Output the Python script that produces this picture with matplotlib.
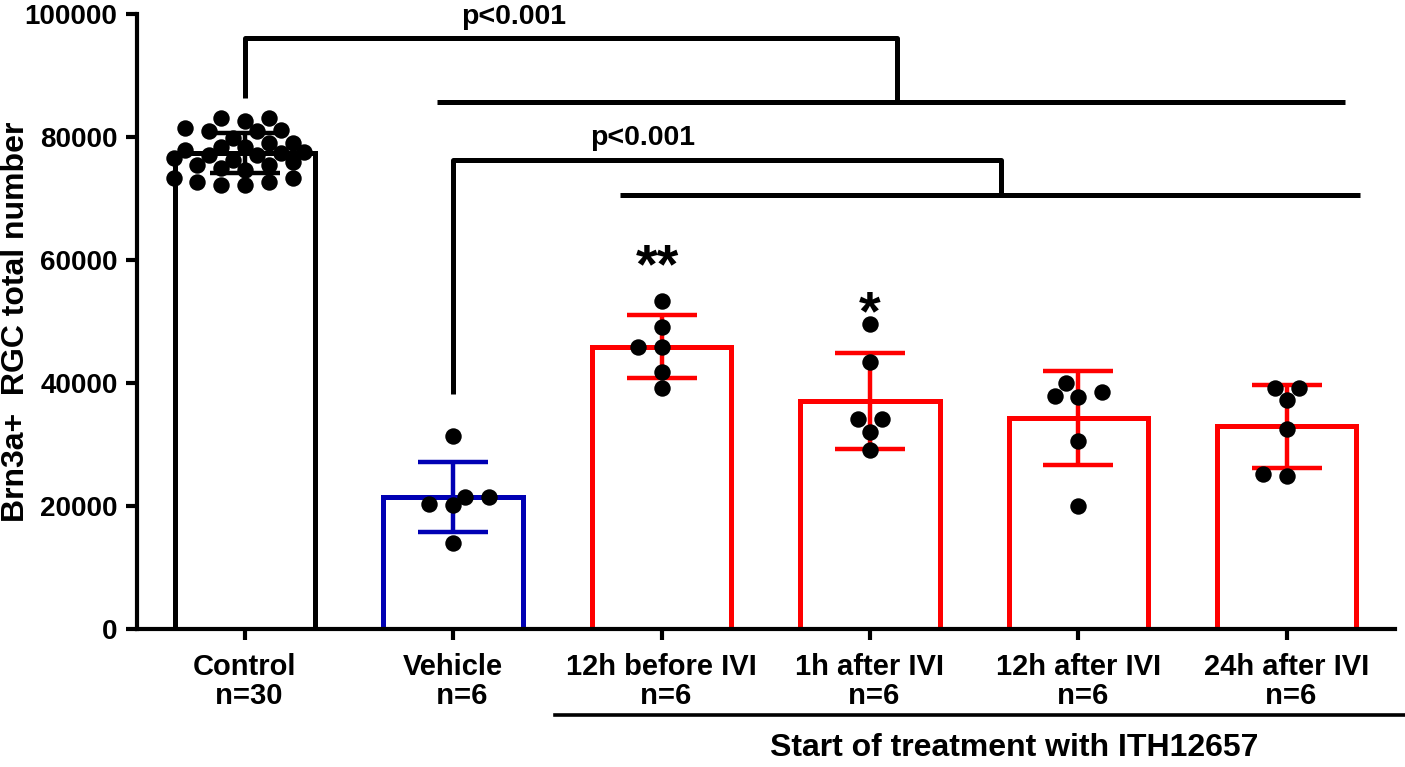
import numpy as np
import matplotlib
matplotlib.use("Agg")
import matplotlib.pyplot as plt
from matplotlib.transforms import blended_transform_factory

plt.rcParams['font.family'] = ['Liberation Sans', 'DejaVu Sans']
plt.rcParams['font.weight'] = 'bold'

# data
groups = ["Control", "Vehicle", "12h before IVI", "1h after IVI", "12h after IVI", "24h after IVI"]
group_n = [30, 6, 6, 6, 6, 6]
means = [77400, 21500, 45900, 37100, 34300, 33000]
sds = [3200, 5700, 5100, 7800, 7650, 6750]

control_pts = [83100, 82600, 83100, 81100, 81000, 81000, 81500, 79800, 79000, 79000,
               78400, 78400, 77600, 77100, 77100, 77400, 77900, 76300, 75400, 75000,
               76600, 75400, 74600, 73300, 72700, 72200, 72200, 72700, 73300, 76000]
vehicle_pts = [31400, 21500, 20300, 20200, 21500, 14000]
before12_pts = [53300, 49100, 45900, 45900, 41800, 39200]
after1_pts = [49600, 43400, 34100, 34100, 32000, 29100]
after12_pts = [38500, 37700, 37900, 40000, 30600, 20000]
after24_pts = [39200, 39200, 37200, 32500, 24900, 25200]
points = [control_pts, vehicle_pts, before12_pts, after1_pts, after12_pts, after24_pts]

colors = ["black", "#0000B4", "#FF0000", "#FF0000", "#FF0000", "#FF0000"]

fig = plt.figure(figsize=(14.05, 7.67), dpi=100)
ax = fig.add_axes([137/1405, 1-629/767, (1395-137)/1405, (629-14)/767])
ax.set_xlim(-0.518, 5.52)
ax.set_ylim(0, 100000)

x = np.arange(len(groups))
ax.bar(x, means, width=0.67, color="white", edgecolor=colors, linewidth=3.6, zorder=2)
for i in range(len(groups)):
    ax.errorbar(x[i], means[i], yerr=sds[i], color=colors[i], elinewidth=3.2,
                capsize=25, capthick=3.2, zorder=3)

# simple beeswarm placement done in pixel space
fig.canvas.draw()
diam = 17.0
step = diam * 0.7
for i, vals in enumerate(points):
    placed = []
    xs = []
    vs = sorted(vals)
    for v in vs:
        cx, cy = ax.transData.transform((x[i], v))
        k = 0
        while True:
            # order of tries: 0, -1, +1, -2, +2 ...
            off = ((k + 1) // 2) * step * (-1 if k % 2 else 1)
            ok = all((cx + off - px) ** 2 + (cy - py) ** 2 >= (diam * 0.84) ** 2
                     for px, py in placed)
            if ok:
                break
            k += 1
        placed.append((cx + off, cy))
        xs.append(ax.transData.inverted().transform((cx + off, cy))[0])
    ax.scatter(xs, vs, s=140, color="black", zorder=4, linewidths=0)

# significance brackets
lw = 3.6
kw = dict(color="black", lw=lw, solid_capstyle="butt", clip_on=False, zorder=5)
ax.plot([0, 0, 3.13, 3.13], [86300, 96100, 96100, 85700], **kw)
ax.plot([0.92, 5.28], [85700, 85700], **kw)
ax.plot([1, 1, 3.63, 3.63], [38200, 76300, 76300, 70600], **kw)
ax.plot([1.80, 5.35], [70600, 70600], **kw)
ax.text(1.29, 99500, "p<0.001", ha="center", va="center", fontsize=20.5, clip_on=False)
ax.text(1.91, 79800, "p<0.001", ha="center", va="center", fontsize=20.5)
ax.text(1.98, 56300, "**", ha="center", va="baseline", fontsize=40)
ax.text(3.0, 48800, "*", ha="center", va="baseline", fontsize=40)

# axes styling
for s in ["top", "right"]:
    ax.spines[s].set_visible(False)
for s in ["left", "bottom"]:
    ax.spines[s].set_linewidth(3.0)
ax.set_yticks([0, 20000, 40000, 60000, 80000, 100000])
ax.set_yticklabels(["0", "20000", "40000", "60000", "80000", "100000"])
ax.set_xticks(x)
labels = []
for g, n in zip(groups, group_n):
    pad = "  " if g == "Vehicle" else " "
    labels.append(f"{g}\n{pad}n={n}")
ax.set_xticklabels(labels, linespacing=1.05)
ax.tick_params(axis="both", width=3, length=8)
ax.tick_params(axis="y", labelsize=20, pad=6)
ax.tick_params(axis="x", labelsize=21, pad=9)
ax.set_ylabel("Brn3a+  RGC total number", fontsize=23, fontweight="bold")
ax.yaxis.set_label_coords(-0.084, 0.5)

# treatment group underline
tr = blended_transform_factory(ax.transData, ax.transAxes)
ax.plot([1.49, 5.57], [-0.14, -0.14], transform=tr, color="black", lw=2.6, clip_on=False)
ax.text(3.69, -0.193, "Start of treatment with ITH12657", transform=tr, ha="center",
        va="center", fontsize=23)

fig.savefig("out.png", dpi=100, facecolor="white")
